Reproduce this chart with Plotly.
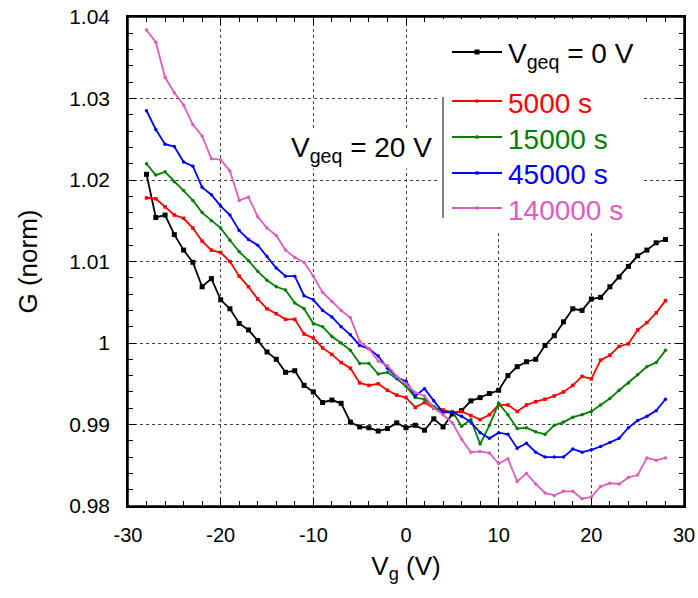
import plotly.graph_objects as go

vg = list(range(-28, 29))

g_0v = [1.0207, 1.0154, 1.0157, 1.0133, 1.0114, 1.0099, 1.0069, 1.0079, 1.0053, 1.0042,
        1.0024, 1.0016, 1.0003, 0.9989, 0.9980, 0.9964, 0.9966, 0.9948, 0.9940, 0.9927,
        0.9930, 0.9926, 0.9903, 0.9897, 0.9896, 0.9892, 0.9895, 0.9902, 0.9896, 0.9899,
        0.9893, 0.9907, 0.9897, 0.9913, 0.9917, 0.9929, 0.9933, 0.9938, 0.9942, 0.9960,
        0.9971, 0.9977, 0.9980, 0.9997, 1.0009, 1.0026, 1.0042, 1.0040, 1.0054, 1.0056,
        1.0069, 1.0081, 1.0094, 1.0107, 1.0114, 1.0123, 1.0127]

g_5000 = [1.0178, 1.0177, 1.0167, 1.0157, 1.0153, 1.0141, 1.0125, 1.0114, 1.0111, 1.0100,
          1.0082, 1.0069, 1.0054, 1.0042, 1.0036, 1.0029, 1.0029, 1.0011, 1.0006, 0.9994,
          0.9986, 0.9976, 0.9969, 0.9951, 0.9948, 0.9950, 0.9942, 0.9936, 0.9933, 0.9921,
          0.9927, 0.9920, 0.9918, 0.9915, 0.9916, 0.9911, 0.9906, 0.9912, 0.9924, 0.9924,
          0.9916, 0.9924, 0.9928, 0.9931, 0.9935, 0.9940, 0.9948, 0.9959, 0.9956, 0.9979,
          0.9985, 0.9996, 0.9999, 1.0016, 1.0025, 1.0037, 1.0052]

g_15000 = [1.0220, 1.0206, 1.0210, 1.0198, 1.0187, 1.0175, 1.0160, 1.0150, 1.0141, 1.0126,
           1.0112, 1.0101, 1.0088, 1.0077, 1.0069, 1.0065, 1.0049, 1.0042, 1.0024, 1.0020,
           1.0008, 1.0000, 0.9991, 0.9975, 0.9975, 0.9962, 0.9964, 0.9956, 0.9947, 0.9933,
           0.9931, 0.9922, 0.9915, 0.9916, 0.9898, 0.9906, 0.9876, 0.9899, 0.9926, 0.9912,
           0.9895, 0.9896, 0.9891, 0.9888, 0.9899, 0.9903, 0.9909, 0.9912, 0.9916, 0.9924,
           0.9932, 0.9942, 0.9951, 0.9961, 0.9971, 0.9976, 0.9991]

g_45000 = [1.0285, 1.0262, 1.0244, 1.0241, 1.0222, 1.0217, 1.0191, 1.0182, 1.0168, 1.0157,
           1.0138, 1.0127, 1.0120, 1.0106, 1.0092, 1.0082, 1.0082, 1.0058, 1.0053, 1.0040,
           1.0032, 1.0020, 1.0010, 0.9997, 0.9993, 0.9984, 0.9969, 0.9958, 0.9953, 0.9935,
           0.9944, 0.9929, 0.9915, 0.9915, 0.9910, 0.9903, 0.9890, 0.9883, 0.9890, 0.9888,
           0.9871, 0.9877, 0.9866, 0.9860, 0.9860, 0.9860, 0.9870, 0.9866, 0.9869, 0.9873,
           0.9878, 0.9883, 0.9896, 0.9905, 0.9910, 0.9917, 0.9931]

g_140000 = [1.0384, 1.0369, 1.0326, 1.0307, 1.0292, 1.0268, 1.0254, 1.0226, 1.0225, 1.0211,
            1.0175, 1.0179, 1.0155, 1.0141, 1.0132, 1.0114, 1.0105, 1.0099, 1.0082, 1.0062,
            1.0051, 1.0040, 1.0031, 1.0002, 0.9993, 0.9978, 0.9972, 0.9959, 0.9950, 0.9939,
            0.9935, 0.9920, 0.9912, 0.9902, 0.9882, 0.9866, 0.9867, 0.9865, 0.9852, 0.9858,
            0.9830, 0.9840, 0.9827, 0.9816, 0.9813, 0.9818, 0.9818, 0.9809, 0.9811, 0.9824,
            0.9828, 0.9827, 0.9835, 0.9838, 0.9859, 0.9856, 0.9859]

series_names = ["V<sub>geq</sub> = 0 V", "5000 s", "15000 s", "45000 s", "140000 s"]
series_colors = ["#000000", "#ff0000", "#008000", "#0000ff", "#dd5cc0"]
series_data = [g_0v, g_5000, g_15000, g_45000, g_140000]

x_ticks = [-30, -20, -10, 0, 10, 20, 30]
x_ticktext = ["-30", "-20", "-10", "0", "10", "20", "30"]
y_ticks = [0.98, 0.99, 1.00, 1.01, 1.02, 1.03, 1.04]
y_ticktext = ["0.98", "0.99", "1", "1.01", "1.02", "1.03", "1.04"]

FONT = "Liberation Sans, Arial, sans-serif"
W, H = 698, 598
L, R, T, B = 128, 14, 17, 92
PW, PH = W - L - R, H - T - B


def px_x(p):
    return (p - L) / PW


def px_y(p):
    return (H - B - p) / PH


fig = go.Figure()
for name, color, data in zip(series_names, series_colors, series_data):
    is_black = color == "#000000"
    fig.add_trace(go.Scatter(
        x=vg, y=data, mode="lines+markers", name=name, showlegend=False,
        line=dict(color=color, width=1.8),
        marker=dict(symbol="square" if is_black or color == "#ff0000" else "circle",
                    size=5 if is_black else 3.5, color=color),
    ))

axis_common = dict(
    showline=True, linecolor="black", linewidth=1.5, mirror="ticks",
    ticks="inside", ticklen=8, tickwidth=1, tickcolor="black",
    showgrid=True, gridcolor="#444444", gridwidth=1, griddash="dot",
    zeroline=False, automargin=False,
)

fig.update_xaxes(
    range=[-30, 30], tickvals=x_ticks, ticktext=x_ticktext,
    tickfont=dict(family=FONT, size=20, color="black"),
    minor=dict(ticks="inside", ticklen=5, tickcolor="black", dtick=2, showgrid=False),
    title=dict(text="V<sub>g</sub> (V)", font=dict(family=FONT, size=26, color="black"), standoff=12),
    ticklabelstandoff=10,
    **axis_common,
)
fig.update_yaxes(
    range=[0.98, 1.04], tickvals=y_ticks, ticktext=y_ticktext,
    tickfont=dict(family=FONT, size=21, color="black"),
    minor=dict(ticks="inside", ticklen=5, tickcolor="black", dtick=0.002, showgrid=False),
    title=dict(text="G (norm)", font=dict(family=FONT, size=26, color="black"), standoff=24),
    ticklabelstandoff=12,
    **axis_common,
)

# legend box (white background hiding the grid)
fig.add_shape(type="rect", xref="paper", yref="paper", layer="above",
              x0=px_x(440), x1=px_x(642), y0=px_y(232), y1=px_y(19),
              line=dict(width=0), fillcolor="white")

# plot frame
fig.add_shape(type="rect", xref="paper", yref="paper", layer="above",
              x0=0, x1=1, y0=0, y1=1, line=dict(color="black", width=1.5),
              fillcolor="rgba(0,0,0,0)")

legend_rows_y = [52, 101, 137, 173, 208]
for name, color, ly in zip(series_names, series_colors, legend_rows_y):
    fig.add_shape(type="line", xref="paper", yref="paper", layer="above",
                  x0=px_x(452), x1=px_x(502), y0=px_y(ly), y1=px_y(ly),
                  line=dict(color=color, width=1.8))
    ms = 2.5 if color == "#000000" else 1.6
    fig.add_shape(type="rect", xref="paper", yref="paper", layer="above",
                  x0=px_x(477 - ms), x1=px_x(477 + ms), y0=px_y(ly + ms), y1=px_y(ly - ms),
                  line=dict(width=0), fillcolor=color)
    fig.add_annotation(
        xref="paper", yref="paper", x=px_x(506), y=px_y(ly + 2 if "sub" not in name else ly + 4),
        xanchor="left", yanchor="middle", showarrow=False,
        text=name, font=dict(family=FONT, size=28, color=color),
    )

fig.add_annotation(
    xref="paper", yref="paper", x=px_x(434), y=px_y(150),
    xanchor="right", yanchor="middle", showarrow=False,
    text="V<sub>geq</sub> = 20 V", font=dict(family=FONT, size=28, color="black"),
    bgcolor="white",
)
fig.add_shape(
    type="line", xref="paper", yref="paper", layer="above",
    x0=px_x(443), x1=px_x(443), y0=px_y(218), y1=px_y(97),
    line=dict(color="black", width=1),
)

fig.update_layout(
    width=W, height=H,
    margin=dict(l=L, r=R, t=T, b=B, autoexpand=False),
    paper_bgcolor="white", plot_bgcolor="white",
    font=dict(family=FONT, color="black"),
    showlegend=False,
)

fig.write_html("out.html", config={"displayModeBar": False},
               post_script="document.body.style.margin='0';")
